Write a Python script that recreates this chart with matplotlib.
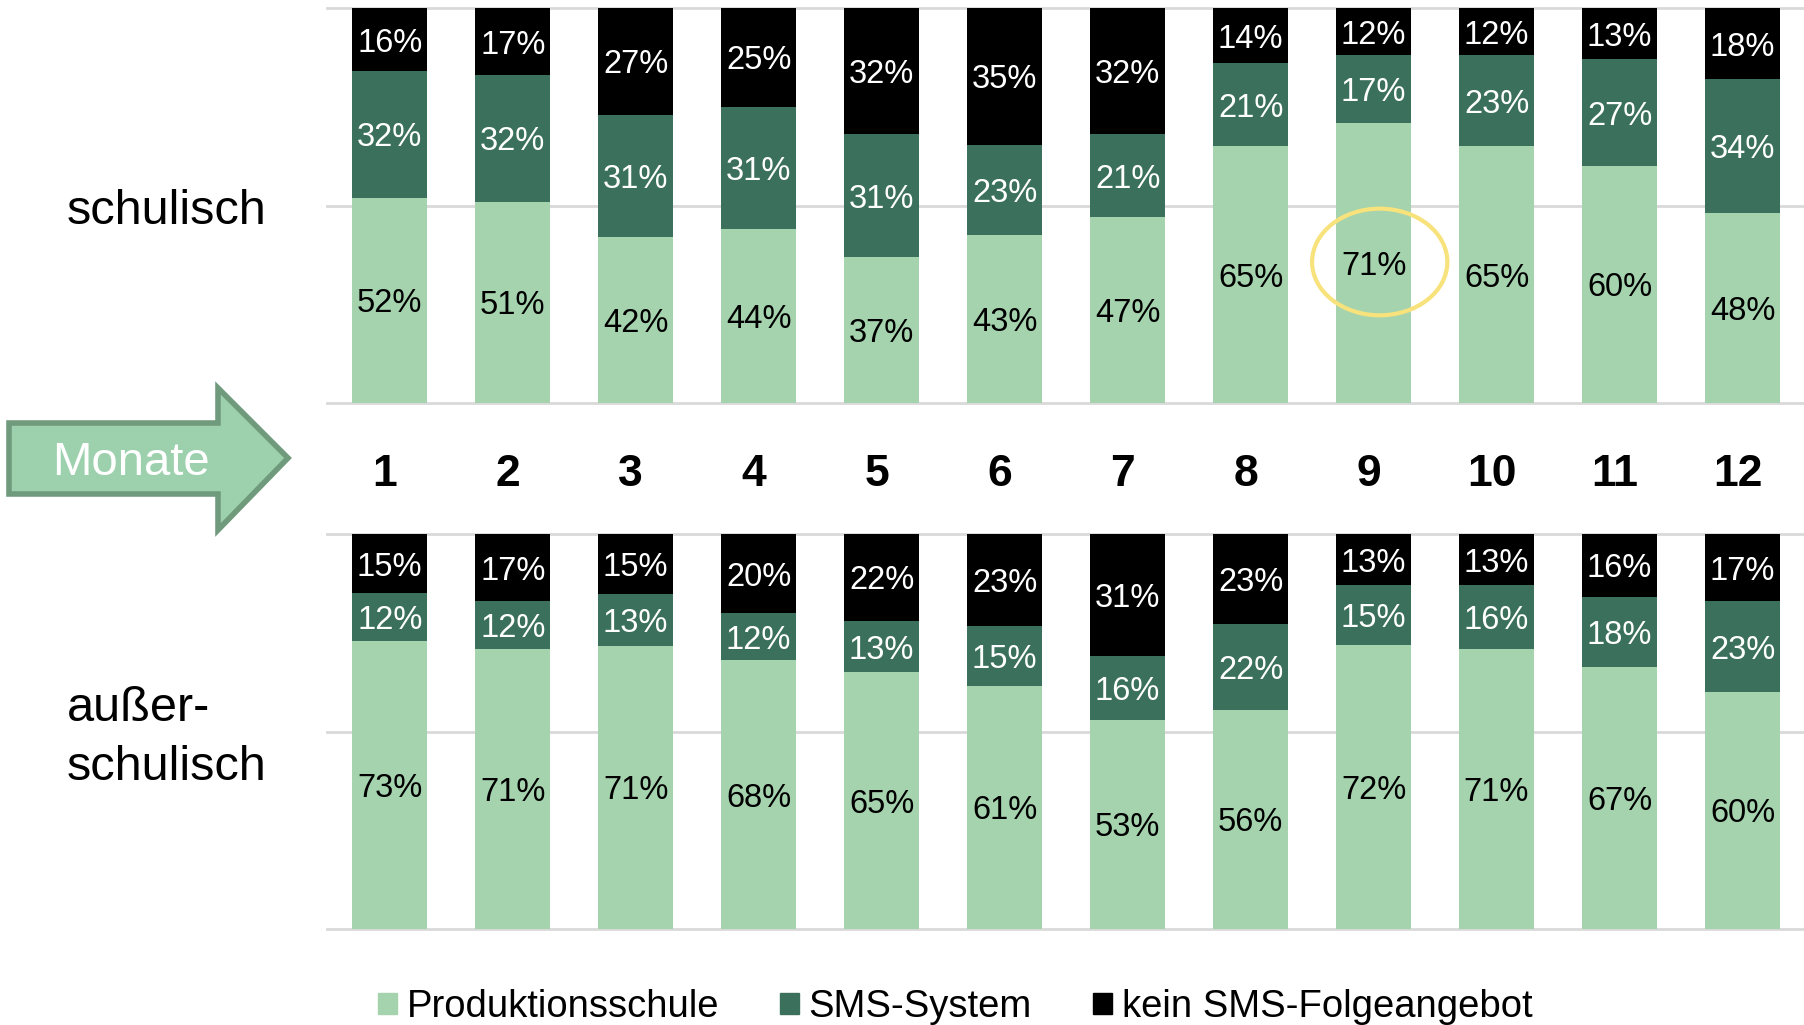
import matplotlib.pyplot as plt
import matplotlib.patches as patches
import matplotlib.transforms as mtrans
import numpy as np

plt.rcParams['font.family'] = ['Liberation Sans', 'DejaVu Sans']

months = ['1', '2', '3', '4', '5', '6', '7', '8', '9', '10', '11', '12']
series = ['Produktionsschule', 'SMS-System', 'kein SMS-Folgeangebot']
colors = ['#a5d3ae', '#3a705c', '#000000']
label_colors = ['black', 'white', 'white']

# schulisch
school_prod = [52, 51, 42, 44, 37, 43, 47, 65, 71, 65, 60, 48]
school_sms = [32, 32, 31, 31, 31, 23, 21, 21, 17, 23, 27, 34]
school_none = [16, 17, 27, 25, 32, 35, 32, 14, 12, 12, 13, 18]

# außerschulisch
out_prod = [73, 71, 71, 68, 65, 61, 53, 56, 72, 71, 67, 60]
out_sms = [12, 12, 13, 12, 13, 15, 16, 22, 15, 16, 18, 23]
out_none = [15, 17, 15, 20, 22, 23, 31, 23, 13, 13, 16, 17]

W, H = 1804, 1025
fig = plt.figure(figsize=(W / 100, H / 100), dpi=100)


def fx(px):
    return px / W


def fy(py):
    return 1 - py / H


ax_top = fig.add_axes([fx(327), fy(403), fx(W - 327), 395 / H])
ax_bot = fig.add_axes([fx(327), fy(929), fx(W - 327), 395 / H])


def draw_panel(ax, values):
    vals = np.array(values, dtype=float)
    shares = vals / vals.sum(axis=0) * 100
    x = np.arange(len(months))
    bottom = np.zeros(len(months))
    for k in range(len(series)):
        ax.bar(x, shares[k], 0.61, bottom=bottom, color=colors[k], zorder=2)
        for i in range(len(months)):
            ax.text(x[i], bottom[i] + shares[k][i] / 2, '{}%'.format(int(vals[k][i])),
                    ha='center', va='center_baseline', fontsize=23.5,
                    color=label_colors[k], zorder=3)
        bottom += shares[k]
    ax.set_xlim(-0.51, 11.5)
    ax.set_ylim(0, 100)
    for yv in [0, 50, 100]:
        ax.axhline(yv, color='#d9d9d9', lw=2, zorder=1, clip_on=False)
    ax.axis('off')


draw_panel(ax_top, [school_prod, school_sms, school_none])
draw_panel(ax_bot, [out_prod, out_sms, out_none])

# month numbers between panels
trans = mtrans.blended_transform_factory(ax_top.transData, fig.transFigure)
for i, m in enumerate(months):
    ax_top.text(i - 0.04, fy(475), m, transform=trans, ha='center', va='center',
                fontsize=32, fontweight='bold', color='black')

# highlight ring around month 9
ax_top.add_patch(patches.Ellipse((8.05, 35.7), 1.1, 27, fill=False, edgecolor='#f7e27c',
                                 lw=3, zorder=4, clip_on=False))

# row labels
fig.text(fx(67), fy(212), 'schulisch', fontsize=35, ha='left', va='center')
fig.text(fx(67), fy(738), 'außer-\nschulisch', fontsize=35, ha='left', va='center',
         linespacing=1.38)

# arrow
pts = [(9, 423), (218, 423), (218, 388), (288, 458), (218, 530), (218, 494), (9, 494)]
arrow = patches.Polygon([(fx(a), fy(b)) for a, b in pts], closed=True,
                        transform=fig.transFigure, facecolor='#9dd1ad',
                        edgecolor='#6f9a7b', lw=4)
fig.patches.append(arrow)
fig.text(fx(131), fy(463), 'Monate', fontsize=34, color='white', ha='center', va='center')

# legend
handles = [patches.Patch(color=c) for c in colors]
fig.legend(handles, series, loc='center', bbox_to_anchor=(fx(955), fy(1007)), ncol=3,
           frameon=False, fontsize=27.5, handlelength=0.5, handleheight=0.5,
           handletextpad=0.25, columnspacing=1.6, borderaxespad=0)

fig.savefig('out.png', dpi=100)
